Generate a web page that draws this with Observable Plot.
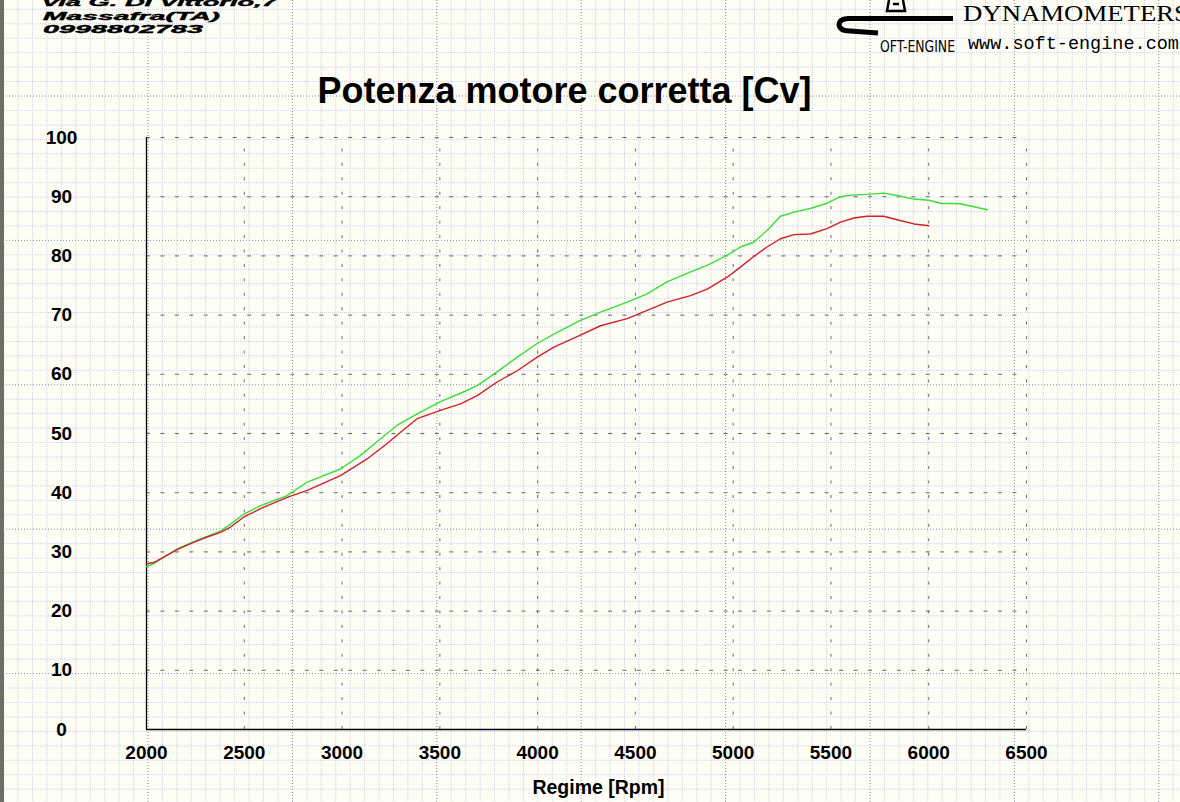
<!DOCTYPE html>
<html>
<head>
<meta charset="utf-8">
<script src="https://cdn.jsdelivr.net/npm/d3@7"></script>
<script src="https://cdn.jsdelivr.net/npm/@observablehq/plot@0.6"></script>
<style>
  html, body { margin: 0; padding: 0; width: 1180px; height: 802px; overflow: hidden; background: #fdfdf4; color: #000; }
  #wrap { position: relative; width: 1180px; height: 802px; }
  #paper, #chart, #head { position: absolute; left: 0; top: 0; }
  #chart svg { background: transparent; display: block; }
</style>
</head>
<body>
<div id="wrap">
  <svg id="paper" width="1180" height="802"></svg>
  <div id="chart"></div>
  <svg id="head" width="1180" height="60">
    <g font-family="Liberation Sans, Arial, sans-serif" font-weight="bold" font-style="italic" font-size="11.6" fill="#000" stroke="#000" stroke-width="0.4">
      <text x="43" y="6" textLength="234" lengthAdjust="spacingAndGlyphs">via G. Di Vittorio,7</text>
      <text x="43" y="19.5" textLength="177" lengthAdjust="spacingAndGlyphs">Massafra(TA)</text>
      <text x="43" y="32.5" textLength="160" lengthAdjust="spacingAndGlyphs">0998802783</text>
    </g>
    <g fill="none" stroke="#000">
      <path d="M953,18.5 L848,18.5 Q839,19 839,25 Q840,31 850,31 L878,33" stroke-width="5"/>
      <path d="M889,0 L887,11 L905,11 L903,0 M893,4 L899,4" stroke-width="2.5"/>
    </g>
    <text x="880" y="52" font-family="DejaVu Sans Condensed, DejaVu Sans, sans-serif" font-size="15" textLength="75" lengthAdjust="spacingAndGlyphs" fill="#000">OFT-ENGINE</text>
    <text x="963" y="21" font-family="Liberation Serif, Times New Roman, serif" font-size="24" textLength="226" lengthAdjust="spacingAndGlyphs" fill="#000">DYNAMOMETERS</text>
    <text x="968" y="49" font-family="Liberation Mono, Courier New, monospace" font-size="18.5" fill="#000">www.soft-engine.com</text>
  </svg>
</div>
<script>
// ---- data ----
const rpmTicks = [2000, 2500, 3000, 3500, 4000, 4500, 5000, 5500, 6000, 6500];
const cvTicks = [0, 10, 20, 30, 40, 50, 60, 70, 80, 90, 100];

const rpmGreen = [2000, 2037, 2157, 2225, 2293, 2378, 2430, 2498, 2583, 2719, 2822, 2992, 3094, 3197, 3282, 3384, 3503, 3606, 3691, 3793, 3896, 3998, 4083, 4219, 4322, 4458, 4560, 4662, 4782, 4867, 4969, 5037, 5105, 5173, 5242, 5310, 5395, 5480, 5549, 5617, 5685, 5770, 5838, 5924, 6000, 6060, 6162, 6230, 6300];
const cvGreen = [27.5, 28.0, 30.5, 31.5, 32.4, 33.5, 34.7, 36.4, 37.8, 39.5, 41.8, 44.0, 46.3, 49.1, 51.4, 53.3, 55.4, 56.8, 58.1, 60.4, 62.9, 65.2, 66.8, 69.1, 70.5, 72.2, 73.6, 75.6, 77.3, 78.4, 80.1, 81.5, 82.3, 84.3, 86.7, 87.4, 88.0, 88.9, 90.0, 90.3, 90.4, 90.6, 90.2, 89.6, 89.4, 88.9, 88.8, 88.3, 87.8];

const rpmRed = [2000, 2037, 2157, 2225, 2293, 2378, 2430, 2498, 2583, 2719, 2822, 2992, 3128, 3231, 3299, 3384, 3503, 3606, 3691, 3793, 3896, 3998, 4083, 4219, 4322, 4458, 4560, 4662, 4782, 4867, 4969, 5037, 5105, 5173, 5242, 5310, 5395, 5480, 5549, 5617, 5685, 5770, 5838, 5924, 6000];
const cvRed = [28.0, 28.2, 30.4, 31.4, 32.3, 33.3, 34.2, 35.9, 37.3, 39.2, 40.4, 42.9, 45.7, 48.3, 50.2, 52.5, 53.9, 55.0, 56.4, 58.7, 60.6, 62.9, 64.6, 66.6, 68.2, 69.4, 70.8, 72.2, 73.3, 74.4, 76.4, 78.1, 79.9, 81.5, 82.9, 83.6, 83.7, 84.6, 85.7, 86.4, 86.7, 86.7, 86.1, 85.4, 85.1];

const titleText = "Potenza motore corretta [Cv]";
const xLabel = "Regime [Rpm]";

// ---- graph-paper background (decoration) ----
(function () {
  const paper = document.getElementById("paper");
  const step = 14.44, big = 144.4;
  let html = '<rect width="1180" height="802" fill="#fdfdf4"/>';
  for (let x = 3.6 - big; x < 1180; x += step) {
    const major = Math.abs(((x - 3.6) / big) - Math.round((x - 3.6) / big)) < 0.01;
    if (!major) html += `<line x1="${x}" y1="0" x2="${x}" y2="802" stroke="#cfd0e6" stroke-dasharray="1,1"/>`;
  }
  for (let y = 96 - big; y < 802; y += step) {
    const major = Math.abs(((y - 96) / big) - Math.round((y - 96) / big)) < 0.01;
    if (!major) html += `<line x1="0" y1="${y}" x2="1180" y2="${y}" stroke="#cfd0e6" stroke-dasharray="1,1"/>`;
  }
  for (let x = 3.6; x < 1180; x += big) html += `<line x1="${x}" y1="0" x2="${x}" y2="802" stroke="#8a8aa8" stroke-dasharray="1,2"/>`;
  for (let y = 96 - big; y < 802; y += big) html += `<line x1="0" y1="${y}" x2="1180" y2="${y}" stroke="#8a8aa8" stroke-dasharray="1,2"/>`;
  html += '<rect x="0" y="0" width="4" height="802" fill="#6e6e62"/>';
  paper.innerHTML = html;
})();

// ---- chart ----
const green = rpmGreen.map((r, i) => ({rpm: r, cv: cvGreen[i]}));
const red = rpmRed.map((r, i) => ({rpm: r, cv: cvRed[i]}));

const chart = Plot.plot({
  width: 1180,
  height: 802,
  marginLeft: 146,
  marginRight: 154,
  marginTop: 137,
  marginBottom: 73,
  style: {background: "transparent", fontFamily: "Liberation Sans, Arial, sans-serif", color: "#000"},
  x: {domain: [2000, 6500], label: null},
  y: {domain: [0, 100], label: null},
  marks: [
    Plot.ruleX(rpmTicks.slice(1), {y1: 0, y2: 100, stroke: "#6a6a6a", strokeWidth: 1, strokeDasharray: "3,11.44", strokeOpacity: 1}),
    Plot.ruleY(cvTicks.slice(1), {x1: 2000, x2: 6500, stroke: "#6a6a6a", strokeWidth: 1, strokeDasharray: "4,10.44", strokeOpacity: 1}),
    Plot.ruleX([2000], {y1: 0, y2: 100, stroke: "#000", strokeWidth: 1.3}),
    Plot.ruleY([0], {x1: 2000, x2: 6500, stroke: "#000", strokeWidth: 1.3}),
    Plot.line(green, {x: "rpm", y: "cv", stroke: "#3ade3a", strokeWidth: 1.4}),
    Plot.line(red, {x: "rpm", y: "cv", stroke: "#d0202e", strokeWidth: 1.4}),
    Plot.axisX({ticks: rpmTicks, tickFormat: d => String(d), tickSize: 0, tickPadding: 16, fontSize: 19, fontWeight: "bold", label: null}),
    Plot.axisY({ticks: cvTicks, tickFormat: d => String(d), tickSize: 0, tickPadding: 85, textAnchor: "middle", fontSize: 19, fontWeight: "bold", label: null}),
    Plot.text([titleText], {text: d => d, frameAnchor: "top", dx: -22, dy: -35, lineAnchor: "bottom", fontSize: 36, fontWeight: "bold"}),
    Plot.text([xLabel], {text: d => d, frameAnchor: "bottom", dx: 12, dy: 64, fontSize: 19.5, fontWeight: "bold"})
  ]
});
document.getElementById("chart").appendChild(chart);
</script>
</body>
</html>
